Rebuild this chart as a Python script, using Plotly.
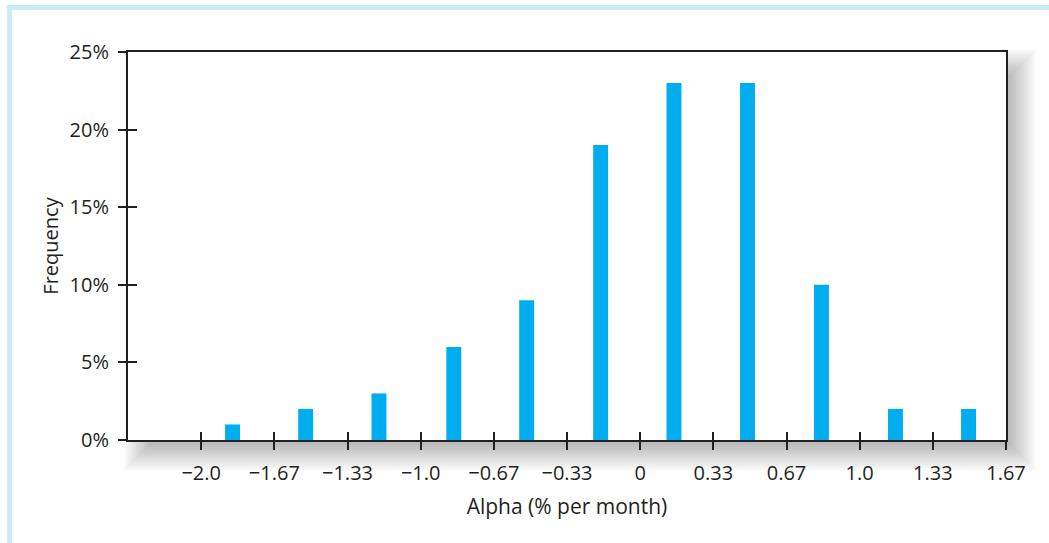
"""Histogram of fund alphas (% per month) with a framed, shadowed plot area."""
import plotly.graph_objects as go

# bar centres (alpha, % per month) and frequencies (%)
alpha_centres = [-1.857, -1.524, -1.190, -0.849, -0.517, -0.180,
                 0.154, 0.489, 0.826, 1.163, 1.496]
frequency_pct = [1, 2, 3, 6, 9, 19, 23, 23, 10, 2, 2]

x_tick_vals = [-2.0, -5 / 3, -4 / 3, -1.0, -2 / 3, -1 / 3, 0, 1 / 3, 2 / 3, 1.0, 4 / 3, 5 / 3]
x_tick_text = ['\u22122.0', '\u22121.67', '\u22121.33', '\u22121.0', '\u22120.67', '\u22120.33',
               '0', '0.33', '0.67', '1.0', '1.33', '1.67']
y_tick_vals = [0, 5, 10, 15, 20, 25]
y_tick_text = ['0%', '5%', '10%', '15%', '20%', '25%']

W, H = 1049, 543
LEFT, RIGHT, TOP, BOTTOM = 128, 1006, 52, 440
PW, PH = RIGHT - LEFT, BOTTOM - TOP
INK = '#231f20'
FONT = 'Open Sans'


def px_x(p):
    """pixel column -> paper x"""
    return (p - LEFT) / PW


def px_y(p):
    """pixel row -> paper y"""
    return (BOTTOM - p) / PH


shapes = []
# soft drop shadow: stacked translucent rectangles
n_layers, blur, off_x, off_y = 18, 17, 13, 14
for i in range(n_layers):
    e = blur - 2 * blur * i / (n_layers - 1)
    shapes.append(dict(type='rect', xref='paper', yref='paper', layer='below',
                       x0=px_x(LEFT + off_x - e), x1=px_x(RIGHT + off_x + e),
                       y0=px_y(BOTTOM + off_y + e), y1=px_y(TOP + off_y - e),
                       line=dict(width=0), fillcolor='black', opacity=0.02))
# white plot area on top of the shadow
shapes.append(dict(type='rect', xref='paper', yref='paper', layer='below',
                   x0=0, x1=1, y0=0, y1=1, line=dict(width=0), fillcolor='white'))
# light blue frame (top and left bands)
shapes.append(dict(type='rect', xref='paper', yref='paper', layer='below',
                   x0=px_x(7), x1=px_x(W), y0=px_y(10), y1=px_y(5),
                   line=dict(width=0), fillcolor='#c9ebfa'))
shapes.append(dict(type='rect', xref='paper', yref='paper', layer='below',
                   x0=px_x(7), x1=px_x(12), y0=px_y(H), y1=px_y(5),
                   line=dict(width=0), fillcolor='#c9ebfa'))

fig = go.Figure()
fig.add_trace(go.Bar(x=alpha_centres, y=frequency_pct, width=0.068,
                     marker=dict(color='#00aeef', line=dict(width=0)),
                     hovertemplate='Alpha: %{x}<br>Frequency: %{y}%<extra></extra>'))
# dummy trace so the overlaying axes (inner half of the crossing ticks) are drawn
fig.add_trace(go.Scatter(x=[None], y=[None], xaxis='x2', yaxis='y2',
                         showlegend=False, hoverinfo='skip'))

x_range = [-7 / 3, 5 / 3]
y_range = [0, 25]

fig.update_layout(
    width=W, height=H,
    margin=dict(l=LEFT, r=W - RIGHT, t=TOP, b=H - BOTTOM, pad=0),
    paper_bgcolor='white', plot_bgcolor='rgba(0,0,0,0)',
    showlegend=False,
    font=dict(family=FONT, size=20, color=INK),
    shapes=shapes,
    xaxis=dict(range=x_range, tickvals=x_tick_vals, ticktext=x_tick_text,
               ticks='outside', ticklen=8, tickwidth=2, tickcolor=INK,
               showline=True, linecolor=INK, linewidth=2, mirror=True,
               showgrid=False, zeroline=False, ticklabelstandoff=6,
               title=dict(text='Alpha (% per month)', standoff=14,
                          font=dict(family=FONT, size=21, color=INK))),
    yaxis=dict(range=y_range, tickvals=y_tick_vals, ticktext=y_tick_text,
               ticks='outside', ticklen=8, tickwidth=2, tickcolor=INK,
               showline=True, linecolor=INK, linewidth=2, mirror=True,
               showgrid=False, zeroline=False, ticklabelstandoff=5,
               title=dict(text='Frequency', standoff=6,
                          font=dict(family=FONT, size=20, color=INK))),
    xaxis2=dict(overlaying='x', anchor='y', side='bottom', range=x_range,
                tickvals=x_tick_vals, ticks='inside', ticklen=8, tickwidth=2,
                tickcolor=INK, showticklabels=False, showline=False,
                showgrid=False, zeroline=False),
    yaxis2=dict(overlaying='y', anchor='x', side='left', range=y_range,
                tickvals=y_tick_vals, ticks='inside', ticklen=9, tickwidth=2,
                tickcolor=INK, showticklabels=False, showline=False,
                showgrid=False, zeroline=False),
)

fig.write_html('out.html', config={'displayModeBar': False},
               post_script="document.body.style.margin='0';")
